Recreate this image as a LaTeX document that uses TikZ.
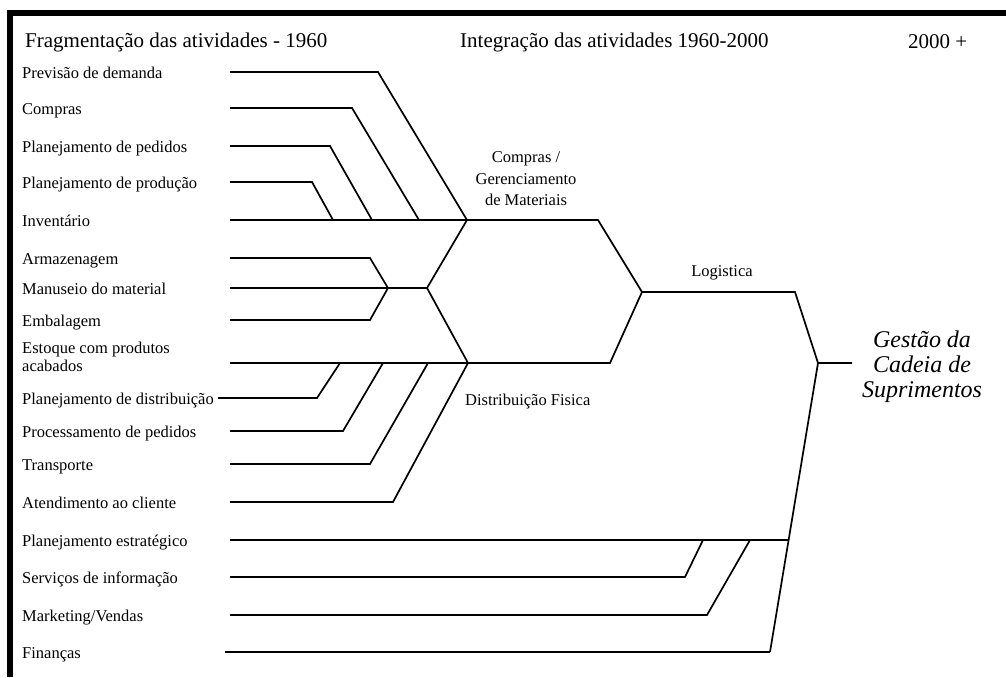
\documentclass[tikz,border=0pt]{standalone}
\usepackage{fontspec}
\setmainfont{Liberation Serif}
\usepackage{tikz}
\usetikzlibrary{calc}
\tikzstyle{lbl}=[anchor=base west,yshift=-6.5pt,inner sep=0pt,font=\fontsize{16.5}{18}\selectfont]
\tikzstyle{twolbl}=[anchor=west,inner sep=0pt,font=\fontsize{16.5}{18}\selectfont,align=left]
\tikzstyle{head}=[anchor=west,inner sep=0pt,font=\fontsize{21}{24}\selectfont]
\tikzstyle{mid}=[inner sep=0pt,font=\fontsize{16.5}{21.5}\selectfont,align=center]
\tikzstyle{wire}=[line width=1.7pt,line join=miter]

\begin{document}
\begin{tikzpicture}[x=1pt,y=-1pt]
      \useasboundingbox (0,0) rectangle (1006,677);
      % the frame (top and left only)
      \draw[line width=6pt] (10,677) -- (10,13) -- (1006,13);
      %% the headers
      \node[head] (h1) at (25,42) {Fragmentação das atividades - 1960};
      \node[head] (h2) at (460,42) {Integração das atividades 1960-2000};
      \node[head] (h3) at (908,42) {2000 +};
      %% the activities, one line each
      \foreach \n/\y/\t in {prev/72/Previsão de demanda,comp/108/Compras,
        pped/146/Planejamento de pedidos,pprod/182/Planejamento de produção,
        inv/220/Inventário,arm/258/Armazenagem,man/288/Manuseio do material,
        emb/320/Embalagem,pdist/398/Planejamento de distribuição,
        proc/431/Processamento de pedidos,transp/464/Transporte,
        atend/502/Atendimento ao cliente,pe/540/Planejamento estratégico,
        serv/577/Serviços de informação,mkt/615/{Marketing/Vendas},fin/652/Finanças}
      {
        \node[lbl] (\n) at (22,\y) {\t};
        \coordinate (s\n) at (230,\y);
      }
      \node[twolbl] (est) at (22,357) {Estoque com produtos\\acabados};
      \coordinate (sest) at (230,363);
      \coordinate (spdist) at (218,398);
      \coordinate (sfin) at (225,652);
      %% the junctions
      \coordinate (cm) at (467,220);   % compras / materiais
      \coordinate (am) at (388,288);   % armazenagem etc
      \coordinate (ctr) at (427,288);
      \coordinate (df) at (468,363);   % distribuicao
      \coordinate (lg) at (642,292);   % logistica
      \coordinate (scm) at (818,363);  % cadeia
      \coordinate (scmend) at (852,363);
      \coordinate (fe) at (770,652);
      \coordinate (pej) at ($(scm)!0.6125!(fe)$);
      % top group
      \draw[wire] (sprev) -- (378,72) -- (cm);
      \draw[wire] (scomp) -- (352,108) -- (419,220);
      \draw[wire] (spped) -- (330,146) -- (372,220);
      \draw[wire] (spprod) -- (312,182) -- (333,220);
      \draw[wire] (sinv) -- (cm) -- (598,220) -- (lg);
      % middle group
      \draw[wire] (sarm) -- (370,258) -- (am);
      \draw[wire] (semb) -- (370,320) -- (am);
      \draw[wire] (sman) -- (ctr);
      \draw[wire] (cm) -- (ctr) -- (df);
      \draw[wire] (sest) -- (df) -- (610,363) -- (lg);
      % bottom group
      \draw[wire] (spdist) -- (317,398) -- (340,363);
      \draw[wire] (sproc) -- (343,431) -- (383,363);
      \draw[wire] (stransp) -- (370,464) -- (428,363);
      \draw[wire] (satend) -- (393,502) -- (df);
      % logistica to cadeia
      \draw[wire] (lg) -- (795,292) -- (scm) -- (scmend);
      \draw[wire] (scm) -- (fe);
      \draw[wire,line width=2.3pt] (sfin) -- (fe);
      \draw[wire] (spe) -- (pej);
      \draw[wire] (sserv) -- (685,577) -- (703,540);
      \draw[wire] (smkt) -- (707,615) -- (750,540);
      %% the stage labels
      \node[mid] (cmlbl) at (526,179) {Compras /\\Gerenciamento\\de Materiais};
      \node[mid,anchor=west] (dflbl) at (465,402) {Distribuição Fisica};
      \node[mid] (lglbl) at (722,273) {Logistica};
      \node[mid,font=\fontsize{24}{25}\selectfont\itshape] (scmlbl) at (922,367)
        {Gestão da\\Cadeia de\\Suprimentos};
    \end{tikzpicture}
\end{document}
